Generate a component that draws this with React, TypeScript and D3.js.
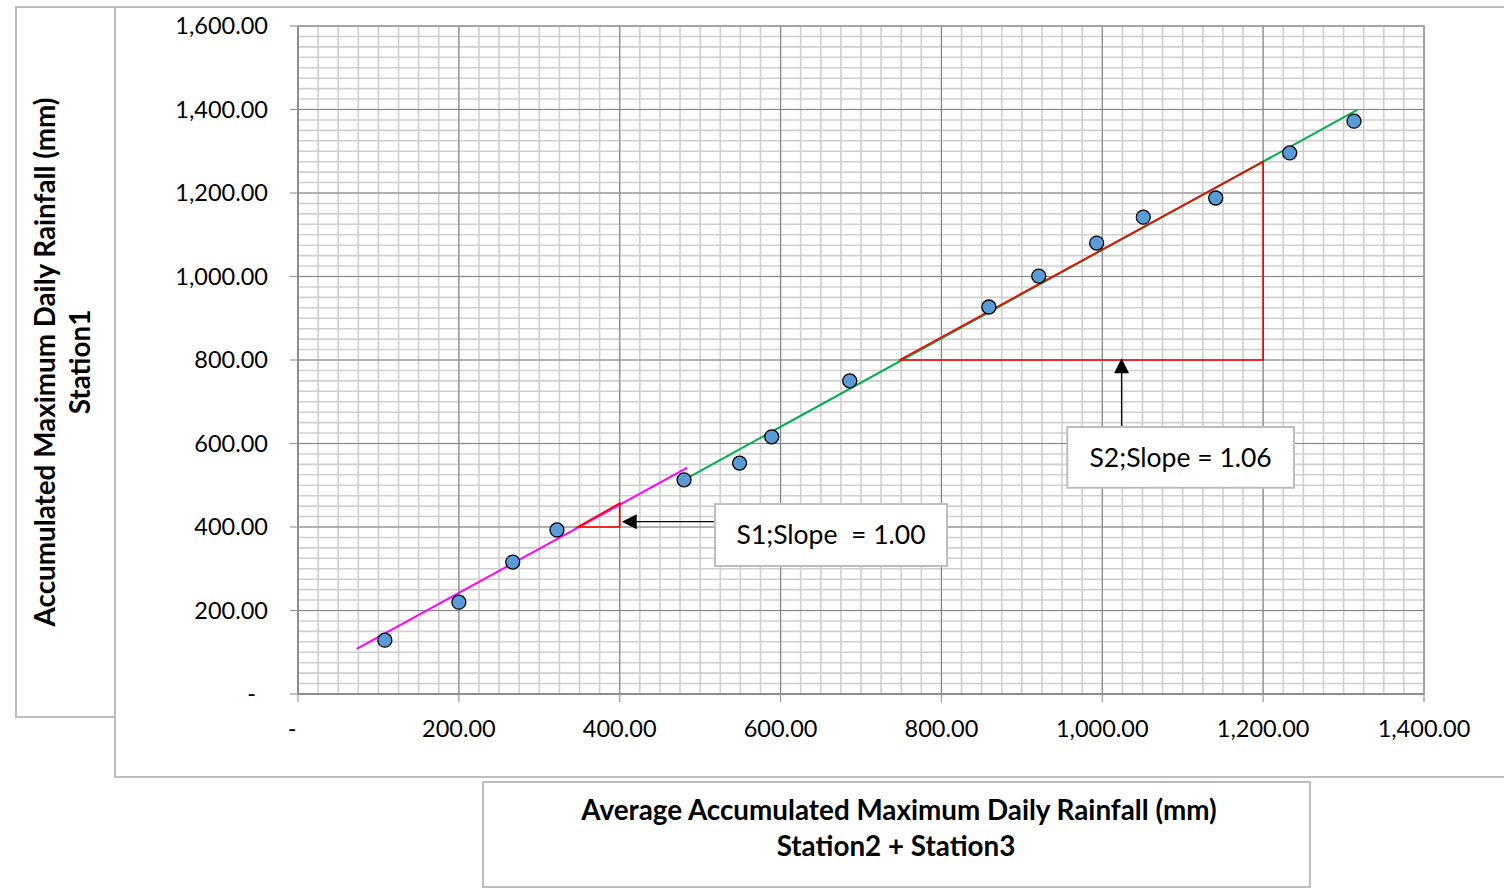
import React from "react";
import * as d3 from "d3";

// Average of Station2 + Station3 (x) vs Station1 (y), accumulated maximum daily rainfall (mm)
const avgStation23 = [108, 200, 267, 322, 480, 549, 589, 686, 859, 921, 993, 1051, 1141, 1233, 1313];
const station1 = [129, 220, 316, 393, 513, 553, 616, 750, 927, 1001, 1080, 1142, 1188, 1296, 1372];

// Fitted segments (x, y in mm)
const s1Line: [number, number][] = [[73, 108], [484, 542]];
const s2Line: [number, number][] = [[480, 513], [1317, 1399]];

// Slope triangles
const s1Triangle: [number, number][] = [[348, 400], [400, 400], [400, 457]];
const s2Triangle: [number, number][] = [[748, 800], [1200, 800], [1200, 1275]];

// Annotation labels
const s1Label = "S1;Slope  = 1.00";
const s2Label = "S2;Slope = 1.06";

const xTicks = [0, 200, 400, 600, 800, 1000, 1200, 1400];
const yTicks = [0, 200, 400, 600, 800, 1000, 1200, 1400, 1600];

const xTitle1 = "Average Accumulated Maximum Daily Rainfall (mm)";
const xTitle2 = "Station2 + Station3";
const yTitle1 = "Accumulated Maximum Daily Rainfall (mm)";
const yTitle2 = "Station1";

const W = 1504;
const H = 888;
const FONT = "Lato, 'Open Sans', sans-serif";

const x = d3.scaleLinear().domain([0, 1400]).range([298, 1424]);
const y = d3.scaleLinear().domain([0, 1600]).range([694, 26]);

const fmt = (v: number) => (v === 0 ? "-" : d3.format(",.2f")(v));

export default function App() {
  const minorX = d3.range(0, 1401, 25);
  const minorY = d3.range(0, 1601, 25);
  const line = d3.line<[number, number]>().x((d) => x(d[0])).y((d) => y(d[1]));

  // annotation geometry (data coords)
  const s1Tip = { x: x(402.5), y: y(412.7) };
  const s1Box = { x0: x(518.5), x1: x(807), y0: y(455), y1: y(306.6) };
  const s2Tip = { x: x(1024), y: y(804) };
  const s2Box = { x0: x(956.5), x1: x(1238.3), y0: y(639.5), y1: y(494) };

  return (
    <svg
      width={W}
      height={H}
      style={{ position: "absolute", left: 0, top: 0, background: "#fff" }}
      fontFamily={FONT}
    >
      <rect x={0} y={0} width={W} height={H} fill="#fff" />

      {/* chart frame and title boxes */}
      <rect x={115} y={7} width={W} height={770} fill="none" stroke="#bdbdbd" strokeWidth={2} />
      <rect x={16} y={7} width={99} height={710} fill="none" stroke="#bdbdbd" strokeWidth={2} />
      <rect x={483} y={782} width={827} height={105} fill="none" stroke="#bdbdbd" strokeWidth={2} />

      {/* minor grid */}
      <g stroke="#cfcfcf" strokeWidth={1.6}>
        {minorX.map((v) => (
          <line key={"mx" + v} x1={x(v)} x2={x(v)} y1={y(0)} y2={y(1600)} />
        ))}
        {minorY.map((v) => (
          <line key={"my" + v} x1={x(0)} x2={x(1400)} y1={y(v)} y2={y(v)} />
        ))}
      </g>
      {/* major grid */}
      <g stroke="#878787" strokeWidth={1.1}>
        {xTicks.map((v) => (
          <line key={"gx" + v} x1={x(v)} x2={x(v)} y1={y(0)} y2={y(1600)} />
        ))}
        {yTicks.map((v) => (
          <line key={"gy" + v} x1={x(0)} x2={x(1400)} y1={y(v)} y2={y(v)} />
        ))}
      </g>
      <rect x={x(0)} y={y(1600)} width={x(1400) - x(0)} height={y(0) - y(1600)} fill="none" stroke="#a0a0a0" strokeWidth={1.5} />
      <line x1={x(0)} x2={x(0)} y1={y(0)} y2={y(1600)} stroke="#868686" strokeWidth={1.5} />
      <line x1={x(0)} x2={x(1400)} y1={y(0)} y2={y(0)} stroke="#868686" strokeWidth={1.5} />

      {/* tick marks */}
      <g stroke="#9a9a9a" strokeWidth={1.2}>
        {yTicks.map((v) => (
          <line key={"ty" + v} x1={x(0) - 8} x2={x(0)} y1={y(v)} y2={y(v)} />
        ))}
        {xTicks.map((v) => (
          <line key={"tx" + v} x1={x(v)} x2={x(v)} y1={y(0)} y2={y(0) + 8} />
        ))}
      </g>

      {/* tick labels */}
      <g fontSize={23.5} fill="#000">
        {yTicks.map((v) => (
          <text key={"ly" + v} x={v === 0 ? 256 : 268} y={y(v)} dy="0.35em" textAnchor="end">
            {fmt(v)}
          </text>
        ))}
        {xTicks.map((v) => (
          <text key={"lx" + v} x={v === 0 ? x(v) - 6 : x(v)} y={729} dy="0.35em" textAnchor="middle">
            {fmt(v)}
          </text>
        ))}
      </g>

      {/* fitted segments */}
      <path d={line(s1Line) || ""} fill="none" stroke="#ff00ff" strokeWidth={2} />
      <path d={line(s2Line) || ""} fill="none" stroke="#00b050" strokeWidth={2} />

      {/* slope triangles */}
      <path d={(line(s1Triangle) || "") + "Z"} fill="none" stroke="#ff0000" strokeWidth={1.7} />
      <path d={(line(s2Triangle) || "") + "Z"} fill="none" stroke="#ff0000" strokeWidth={1.7} />

      {/* observations */}
      <g fill="#5b9bd5" stroke="#000" strokeWidth={1.3}>
        {avgStation23.map((v, i) => (
          <circle key={"p" + i} cx={x(v)} cy={y(station1[i])} r={7} />
        ))}
      </g>

      {/* S1 annotation */}
      <line x1={s1Box.x0} x2={s1Tip.x + 14} y1={s1Tip.y} y2={s1Tip.y} stroke="#000" strokeWidth={1.3} />
      <polygon
        points={`${s1Tip.x},${s1Tip.y} ${s1Tip.x + 15},${s1Tip.y - 7.5} ${s1Tip.x + 15},${s1Tip.y + 7.5}`}
        fill="#000"
      />
      <rect x={s1Box.x0} y={s1Box.y0} width={s1Box.x1 - s1Box.x0} height={s1Box.y1 - s1Box.y0} fill="#fff" stroke="#bdbdbd" strokeWidth={2} />
      <text x={(s1Box.x0 + s1Box.x1) / 2} y={(s1Box.y0 + s1Box.y1) / 2} dy="0.35em" textAnchor="middle" fontSize={26.5} style={{ whiteSpace: "pre" }}>
        {s1Label}
      </text>

      {/* S2 annotation */}
      <line x1={s2Tip.x} x2={s2Tip.x} y1={s2Box.y0} y2={s2Tip.y + 14} stroke="#000" strokeWidth={1.3} />
      <polygon
        points={`${s2Tip.x},${s2Tip.y} ${s2Tip.x - 7.5},${s2Tip.y + 15} ${s2Tip.x + 7.5},${s2Tip.y + 15}`}
        fill="#000"
      />
      <rect x={s2Box.x0} y={s2Box.y0} width={s2Box.x1 - s2Box.x0} height={s2Box.y1 - s2Box.y0} fill="#fff" stroke="#bdbdbd" strokeWidth={2} />
      <text x={(s2Box.x0 + s2Box.x1) / 2} y={(s2Box.y0 + s2Box.y1) / 2} dy="0.35em" textAnchor="middle" fontSize={26.5}>
        {s2Label}
      </text>

      {/* axis titles */}
      <g fontWeight="bold" fontSize={27.8} textAnchor="middle" fill="#000">
        <text x={899} y={810} dy="0.35em">{xTitle1}</text>
        <text x={896} y={846} dy="0.35em">{xTitle2}</text>
        <text transform="translate(45,362) rotate(-90)" dy="0.35em">{yTitle1}</text>
        <text transform="translate(80,362) rotate(-90)" dy="0.35em">{yTitle2}</text>
      </g>
    </svg>
  );
}
